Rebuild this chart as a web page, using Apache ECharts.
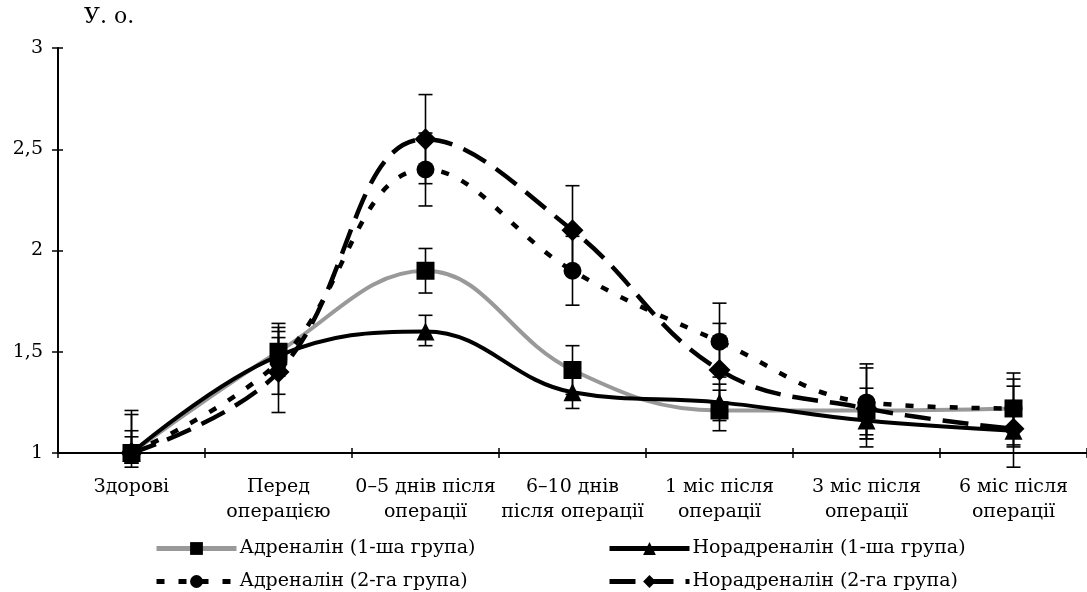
<!DOCTYPE html>
<html><head><meta charset="utf-8">
<script src="https://cdn.jsdelivr.net/npm/echarts@6/dist/echarts.min.js"></script>
<style>html,body{margin:0;padding:0;background:#fff}#c{width:1087px;height:592px}</style>
</head><body><div id="c"></div>
<script>
const categories = ["Здорові", "Перед\nопераці\u0454ю", "0–5 днів після\nоперації", "6–10 днів\nпісля операції", "1 міс після\nоперації", "3 міс після\nоперації", "6 міс після\nоперації"];
const yTicks = ["1", "1,5", "2", "2,5", "3"];
const seriesNames = ["Адреналін (1-ша група)", "Норадреналін (1-ша група)", "Адреналін (2-га група)", "Норадреналін (2-га група)"];

const adr1 = [1.0, 1.5, 1.9, 1.41, 1.21, 1.21, 1.22];
const adr1Hi = [1.08, 1.62, 2.01, 1.53, 1.31, 1.32, 1.33];
const adr1Lo = [0.95, 1.38, 1.79, 1.29, 1.11, 1.09, 1.11];

const nor1 = [1.0, 1.48, 1.6, 1.3, 1.25, 1.16, 1.11];
const nor1Hi = [1.11, 1.57, 1.68, 1.38, 1.34, 1.25, 1.2];
const nor1Lo = [0.95, 1.4, 1.53, 1.22, 1.16, 1.07, 1.03];

const adr2 = [1.0, 1.45, 2.4, 1.9, 1.55, 1.25, 1.22];
const adr2Hi = [1.19, 1.64, 2.58, 2.07, 1.74, 1.44, 1.395];
const adr2Lo = [0.95, 1.29, 2.22, 1.73, 1.375, 1.07, 1.04];

const nor2 = [1.0, 1.4, 2.55, 2.1, 1.41, 1.22, 1.12];
const nor2Hi = [1.21, 1.6, 2.77, 2.32, 1.64, 1.42, 1.365];
const nor2Lo = [0.93, 1.2, 2.33, 1.88, 1.2, 1.03, 0.93];

const FONT = "DejaVu Serif";
const chart = echarts.init(document.getElementById('c'), null, {renderer: 'canvas'});

function errSeries(hi, lo) {
  return {
    type: 'custom', xAxisIndex: 0, yAxisIndex: 0, silent: true, z: 1,
    data: hi.map((h, i) => [i, lo[i], h]),
    renderItem: function (params, api) {
      const x = api.coord([api.value(0), api.value(1)]);
      const t = api.coord([api.value(0), api.value(2)]);
      const w = 7;
      const st = {stroke: '#000', lineWidth: 1.6};
      return {type: 'group', children: [
        {type: 'line', shape: {x1: x[0], y1: x[1], x2: t[0], y2: t[1]}, style: st},
        {type: 'line', shape: {x1: x[0] - w, y1: x[1], x2: x[0] + w, y2: x[1]}, style: st},
        {type: 'line', shape: {x1: t[0] - w, y1: t[1], x2: t[0] + w, y2: t[1]}, style: st}
      ]};
    },
    encode: {x: 0, y: [1, 2]}
  };
}

function mkLegend(name, left, top, lw) {
  return {
    left: left, top: top, itemWidth: 80, itemHeight: 16, itemGap: 0, padding: 0,
    textStyle: {color: '#000', fontFamily: FONT, fontSize: 19, padding: [0, 0, 0, -2]},
    lineStyle: {width: lw},
    data: [name]
  };
}

const option = {
  animation: false,
  backgroundColor: '#fff',
  grid: {left: 58, top: 48, right: -7, bottom: 139, containLabel: false},
  graphic: [{type: 'text', left: 84, top: 6, style: {text: 'У. о.', font: '22px "' + FONT + '"', fill: '#000'}}],
  xAxis: [{
    type: 'category', data: categories, boundaryGap: true,
    axisLine: {lineStyle: {color: '#000', width: 2}},
    axisTick: {show: true, length: 5, lineStyle: {color: '#000', width: 1.5}},
    axisLabel: {color: '#000', fontFamily: FONT, fontSize: 19, lineHeight: 25, margin: 22, interval: 0}
  }, {
    type: 'category', data: categories, boundaryGap: true, position: 'bottom',
    axisLine: {show: false}, axisLabel: {show: false},
    axisTick: {show: true, inside: true, length: 5, lineStyle: {color: '#000', width: 1.5}}
  }],
  yAxis: [{
    type: 'value', min: 1, max: 3, interval: 0.5,
    axisLine: {show: true, lineStyle: {color: '#000', width: 2}},
    axisTick: {show: true, length: 6, lineStyle: {color: '#000', width: 1.5}},
    splitLine: {show: false},
    axisLabel: {color: '#000', fontFamily: FONT, fontSize: 19, margin: 15,
      formatter: v => yTicks[Math.round((v - 1) / 0.5)] || ''}
  }, {
    type: 'value', min: 1, max: 3, interval: 0.5, position: 'left',
    axisLine: {show: false}, axisLabel: {show: false}, splitLine: {show: false},
    axisTick: {show: true, inside: true, length: 5, lineStyle: {color: '#000', width: 1.5}}
  }],
  legend: [
    mkLegend(seriesNames[0], 154, 539, 5),
    mkLegend(seriesNames[1], 607, 539, 5),
    mkLegend(seriesNames[2], 154, 572, 5),
    mkLegend(seriesNames[3], 607, 572, 5)
  ],
  series: [
    errSeries(adr1Hi, adr1Lo), errSeries(nor1Hi, nor1Lo), errSeries(adr2Hi, adr2Lo), errSeries(nor2Hi, nor2Lo),
    {name: seriesNames[0], type: 'line', data: adr1, smooth: 0.4, z: 3,
      symbol: 'rect', symbolSize: 18,
      lineStyle: {color: '#999', width: 4}, itemStyle: {color: '#000', borderWidth: 0}},
    {name: seriesNames[1], type: 'line', data: nor1, smooth: 0.4, z: 4,
      symbol: 'triangle', symbolSize: 18,
      lineStyle: {color: '#000', width: 4}, itemStyle: {color: '#000', borderWidth: 0}},
    {name: seriesNames[2], type: 'line', data: adr2, smooth: 0.4, z: 5,
      symbol: 'circle', symbolSize: 18,
      lineStyle: {color: '#000', width: 4.5, type: [8, 14]}, itemStyle: {color: '#000', borderWidth: 0}},
    {name: seriesNames[3], type: 'line', data: nor2, smooth: 0.4, z: 6,
      symbol: 'diamond', symbolSize: 22,
      lineStyle: {color: '#000', width: 4.5, type: [26, 12]}, itemStyle: {color: '#000', borderWidth: 0}}
  ]
};
chart.setOption(option);
</script></body></html>
